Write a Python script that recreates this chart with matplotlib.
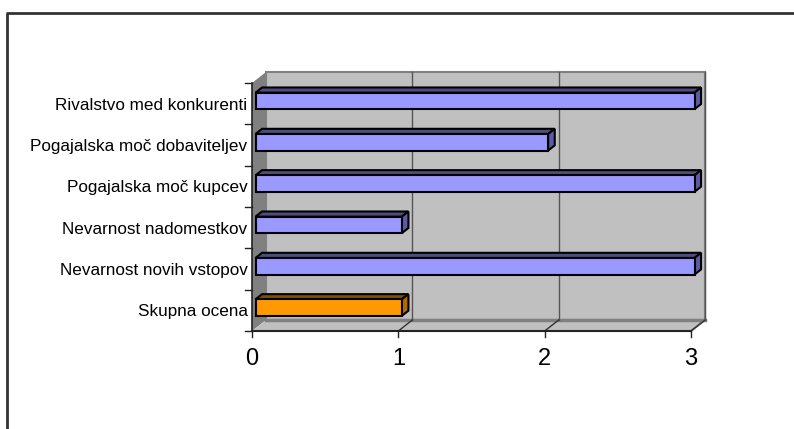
import matplotlib.pyplot as plt
from matplotlib.patches import Polygon

plt.rcParams['font.family'] = ['Liberation Sans', 'DejaVu Sans']

# categories listed bottom to top, as the axis draws them
categories = ['Skupna ocena', 'Nevarnost novih vstopov', 'Nevarnost nadomestkov',
              'Pogajalska moč kupcev', 'Pogajalska moč dobaviteljev',
              'Rivalstvo med konkurenti']
values = [1, 3, 1, 3, 2, 3]
x_ticks = [0, 1, 2, 3]

front_colors = ['#FF9900'] + ['#9999FF'] * 5
top_colors = ['#805000'] + ['#4D4D80'] * 5
side_colors = ['#B36B00'] + ['#5C5CA6'] * 5

fig = plt.figure(figsize=(7.94, 4.29), dpi=100)
# axes spans the front plane of the 3d box
ax = fig.add_axes([252 / 794, 1 - 331 / 429, 439 / 794, 248 / 429])
ax.set_xlim(0, 3)
ax.set_ylim(-0.5, 5.5)
ax.axis('off')

# depth of the box in data units
dx = 14 / 146.3
dy = 11 / 41.33
xmax = x_ticks[-1]
y0, y1 = -0.5, len(categories) - 0.5


def poly(pts, fc, ec='none', lw=0, z=1):
    ax.add_patch(Polygon(pts, closed=True, facecolor=fc, edgecolor=ec,
                         linewidth=lw, zorder=z, clip_on=False, joinstyle='miter'))


# walls and floor
poly([(dx, y0 + dy), (xmax + dx, y0 + dy), (xmax + dx, y1 + dy), (dx, y1 + dy)],
     '#C0C0C0', '#808080', 1.5)
poly([(0, y0), (0, y1), (dx, y1 + dy), (dx, y0 + dy)], '#808080')
poly([(0, y0), (xmax, y0), (xmax + dx, y0 + dy), (dx, y0 + dy)], '#C0C0C0')
ax.plot([dx, xmax + dx], [y0 + dy, y0 + dy], color='#808080', lw=2.5,
        clip_on=False, zorder=2)
ax.plot([xmax, xmax + dx, xmax + dx], [y0, y0 + dy, y1 + dy], color='#808080',
        lw=1.5, clip_on=False, zorder=2)

# gridlines on back wall and floor
for t in x_ticks[1:]:
    ax.plot([t + dx, t + dx], [y0 + dy, y1 + dy], color='#555555', lw=1,
            clip_on=False, zorder=2)
    ax.plot([t, t + dx], [y0, y0 + dy], color='#333333', lw=1,
            clip_on=False, zorder=2)

# axis lines and ticks
ax.plot([0, 0], [y0, y1], color='#222222', lw=1.2, clip_on=False, zorder=3)
ax.plot([0, xmax], [y0, y0], color='#222222', lw=1.5, clip_on=False, zorder=3)
tick_x = 7 / 146.3
for i in range(len(categories) + 1):
    ax.plot([-tick_x, 0], [y0 + i, y0 + i], color='#222222', lw=1,
            clip_on=False, zorder=3)
for t in x_ticks:
    ax.plot([t, t], [y0, y0 - 6 / 41.33], color='#222222', lw=1,
            clip_on=False, zorder=3)
    ax.text(t, y0 - 0.68, str(t), ha='center', va='center', fontsize=17)

for i, name in enumerate(categories):
    ax.text(-0.03, i - 0.04, name, ha='right', va='center', fontsize=12.3)

# 3d bars
f0, f1 = 0.25, 0.72
h = 0.2
for i, v in enumerate(values):
    a, b = f0 * dx, f1 * dx
    ya, yb = f0 * dy, f1 * dy
    poly([(a, i + h + ya), (v + a, i + h + ya), (v + b, i + h + yb), (b, i + h + yb)],
         top_colors[i], 'black', 1.5, 5)
    poly([(v + a, i - h + ya), (v + a, i + h + ya), (v + b, i + h + yb), (v + b, i - h + yb)],
         side_colors[i], 'black', 1.5, 5)
    poly([(a, i - h + ya), (v + a, i - h + ya), (v + a, i + h + ya), (a, i + h + ya)],
         front_colors[i], 'black', 1.5, 6)

# chart area border (top and left edges)
fig.add_artist(plt.Line2D([7 / 794, 7 / 794, 1], [0, 1 - 13 / 429, 1 - 13 / 429],
                          color='#333333', lw=2, transform=fig.transFigure))

fig.savefig('out.png', dpi=100)
